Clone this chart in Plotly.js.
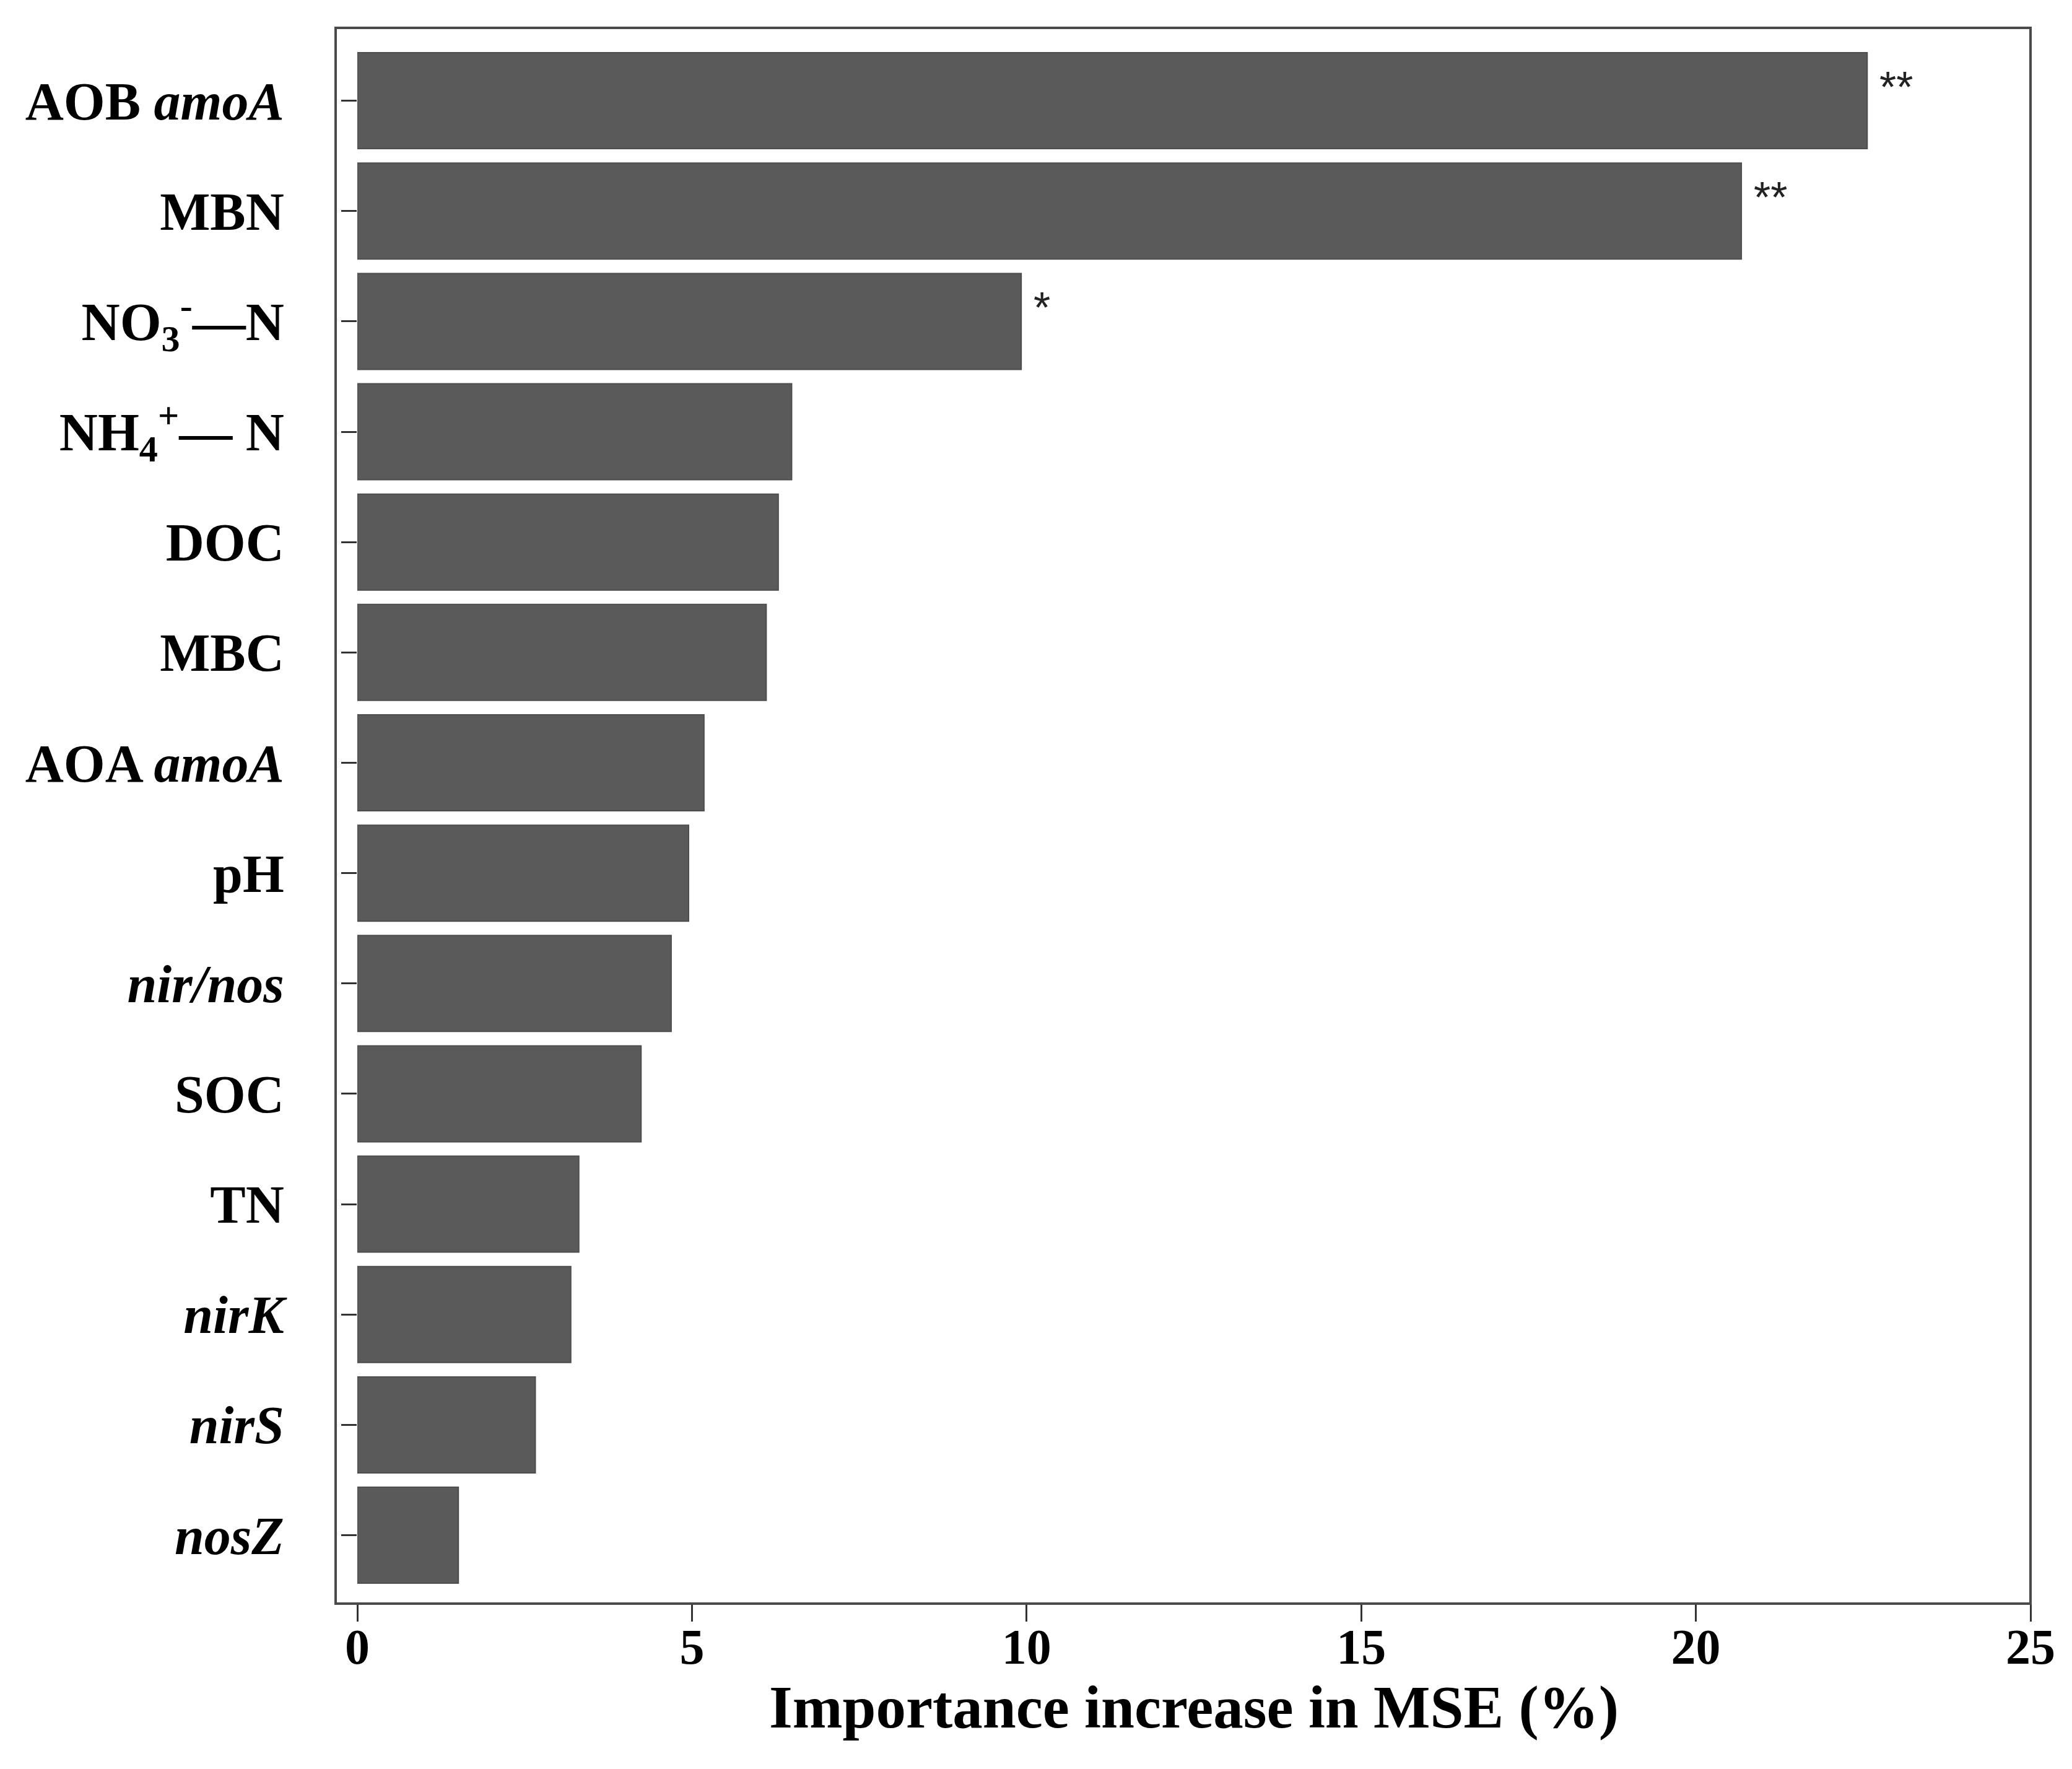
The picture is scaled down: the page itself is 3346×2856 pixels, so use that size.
<!DOCTYPE html>
<html>
<head>
<meta charset="utf-8">
<script src="https://cdn.plot.ly/plotly-3.0.1.min.js"></script>
<style>html,body{margin:0;padding:0;background:#fff;}#chart{width:3346px;height:2856px;}</style>
</head>
<body>
<div id="chart"></div>
<script>
// Categories (top to bottom)
const categories = ["AOB amoA", "MBN", "NO3-N", "NH4-N", "DOC", "MBC", "AOA amoA", "pH", "nir/nos", "SOC", "TN", "nirK", "nirS", "nosZ"];
// Tick labels (rich text)
const tickLabels = [
  "AOB <i>amoA</i>",
  "MBN",
  "NO<sub>3</sub><sup>-</sup>\u2014N",
  "NH<sub>4</sub><sup>+</sup>\u2014 N",
  "DOC",
  "MBC",
  "AOA <i>amoA</i>",
  "pH",
  "<i>nir/nos</i>",
  "SOC",
  "TN",
  "<i>nirK</i>",
  "<i>nirS</i>",
  "<i>nosZ</i>"
];
// Importance increase in MSE (%)
const importance = [22.56, 20.68, 9.92, 6.49, 6.29, 6.11, 5.18, 4.95, 4.69, 4.24, 3.31, 3.19, 2.66, 1.51];
// Significance marks
const significance = ["**", "**", "*", "", "", "", "", "", "", "", "", "", "", ""];
// X-axis ticks
const xTicks = [0, 5, 10, 15, 20, 25];

const W = 3346, H = 2856;
const L = 577, R = 3279, T = 45, B = 2589;

const trace = {
  type: "bar",
  orientation: "h",
  x: importance,
  y: categories,
  marker: { color: "#5a5a5a", line: { color: "#4d4d4d", width: 2 } },
  hoverinfo: "x+y"
};

const annotations = [];
categories.forEach((c, i) => {
  if (significance[i]) {
    annotations.push({
      x: importance[i], y: c, xref: "x", yref: "y",
      text: significance[i], showarrow: false,
      xanchor: "left", yanchor: "middle", xshift: 18, yshift: 22,
      font: { family: "Liberation Sans, Arial, sans-serif", size: 70, color: "#222" }
    });
  }
});

const layout = {
  width: W, height: H,
  paper_bgcolor: "#fff", plot_bgcolor: "#fff",
  margin: { l: L, r: W - R, t: T, b: H - B, pad: 0 },
  showlegend: false,
  bargap: 0.13,
  font: { family: "Liberation Serif, 'Times New Roman', serif", color: "#000" },
  xaxis: {
    range: [0, 25],
    tickvals: xTicks,
    ticktext: xTicks.map(String),
    ticks: "outside", ticklen: 28, tickwidth: 3, tickcolor: "#333",
    ticklabelstandoff: -28,
    showgrid: false, zeroline: false, showline: false,
    tickfont: { family: "Liberation Serif, 'Times New Roman', serif", size: 80, weight: "bold", color: "#000" },
    title: {
      text: "<b>Importance increase in MSE (%)</b>",
      font: { family: "Liberation Serif, 'Times New Roman', serif", size: 97, color: "#000" },
      standoff: 18
    }
  },
  yaxis: {
    type: "category",
    categoryorder: "array", categoryarray: categories,
    range: [13.62, -0.66],
    tickvals: categories,
    ticktext: tickLabels.map(t => "<b>" + t + "</b>"),
    ticks: "outside", ticklen: 25, tickwidth: 3, tickcolor: "#333",
    ticklabelstandoff: 75,
    showgrid: false, zeroline: false, showline: false,
    tickfont: { family: "Liberation Serif, 'Times New Roman', serif", size: 86, color: "#000" }
  },
  shapes: [{
    type: "rect", xref: "paper", yref: "paper",
    x0: (542 - L) / (R - L), x1: 1, y0: 0, y1: 1,
    line: { color: "#4a4a4a", width: 4 }, layer: "above"
  }],
  annotations: annotations
};

Plotly.newPlot("chart", [trace], layout, { staticPlot: true, displayModeBar: false });
</script>
</body>
</html>
